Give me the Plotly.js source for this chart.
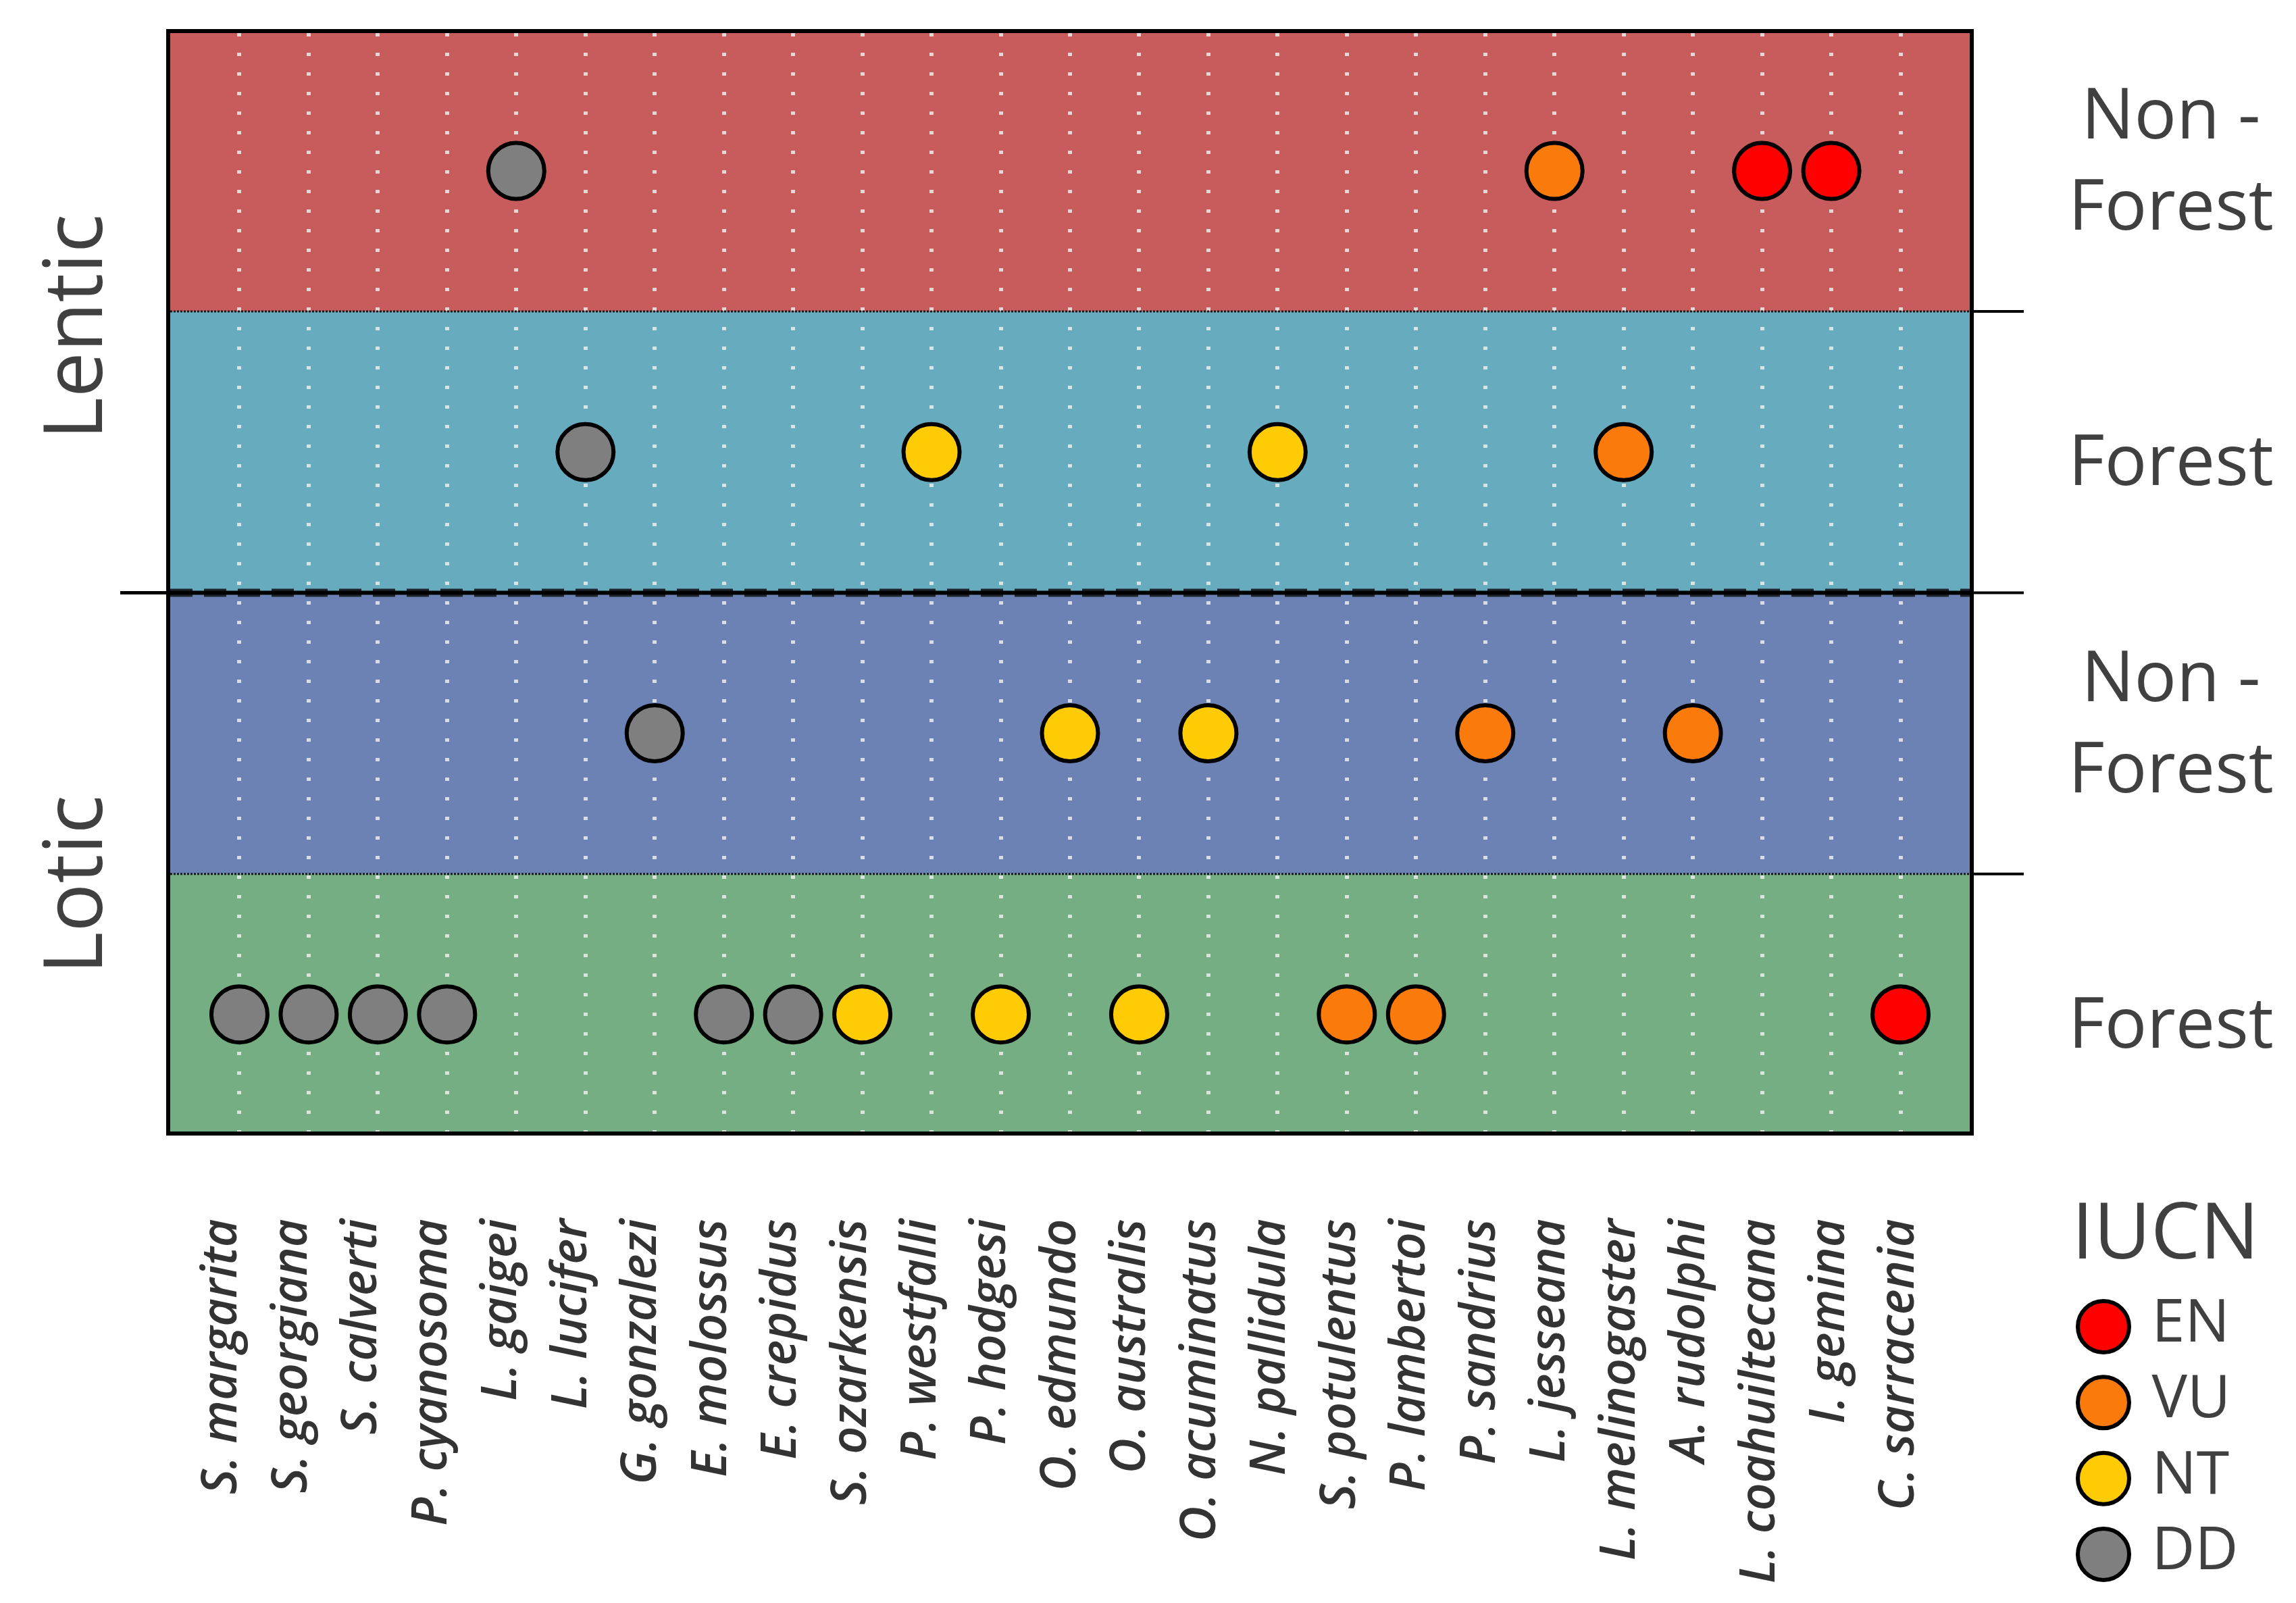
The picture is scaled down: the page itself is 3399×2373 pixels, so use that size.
<!DOCTYPE html>
<html>
<head>
<meta charset="utf-8">
<script src="https://cdn.plot.ly/plotly-3.0.1.min.js"></script>
<style>html,body{margin:0;padding:0;background:#fff;}#chart{width:3399px;height:2373px;}</style>
</head>
<body>
<div id="chart"></div>
<script>
// ---------- data ----------
const species = ['S. margarita','S. georgiana','S. calverti','P. cyanosoma','L. gaigei','L. lucifer',
  'G. gonzalezi','E. molossus','E. crepidus','S. ozarkensis','P. westfalli','P. hodgesi','O. edmundo',
  'O. australis','O. acuminatus','N. pallidula','S. potulentus','P. lambertoi','P. sandrius',
  'L. jesseana','L. melinogaster','A. rudolphi','L. coahuiltecana','I. gemina','C. sarracenia'];
const habitatLevels = ['Lotic Forest','Lotic Non-Forest','Lentic Forest','Lentic Non-Forest'];
const habitatLabels = ['Forest','Non -<br>Forest','Forest','Non -<br>Forest'];
const speciesHabitat = ['Lotic Forest','Lotic Forest','Lotic Forest','Lotic Forest','Lentic Non-Forest',
  'Lentic Forest','Lotic Non-Forest','Lotic Forest','Lotic Forest','Lotic Forest','Lentic Forest',
  'Lotic Forest','Lotic Non-Forest','Lotic Forest','Lotic Non-Forest','Lentic Forest','Lotic Forest',
  'Lotic Forest','Lotic Non-Forest','Lentic Non-Forest','Lentic Forest','Lotic Non-Forest',
  'Lentic Non-Forest','Lentic Non-Forest','Lotic Forest'];
const speciesStatus = ['DD','DD','DD','DD','DD','DD','DD','DD','DD','NT','NT','NT','NT','NT','NT','NT',
  'VU','VU','VU','VU','VU','VU','EN','EN','EN'];
const statusLevels = ['EN','VU','NT','DD'];
const statusColors = {EN:'#FF0000', VU:'#FA7A0C', NT:'#FFCB05', DD:'#7F7F7F'};
const bandColors = ['#74AE82','#6C82B4','#66ABBE','#C85B5B'];
const systemLabels = ['Lotic','Lentic'];

// ---------- geometry ----------
const W = 3399, H = 2373;
const xDom = [252/W, 2916/W];
const yDom = [(H-1675)/H, (H-49)/H];
const yRange = [0.584, 4.49];
const xRange = [-1, 25];
const labelRange = [-0.725, 25.024];
const textCol = '#404040';

const yOf = h => habitatLevels.indexOf(h) + 1;

const mainTrace = {
  type:'scatter', mode:'markers', xaxis:'x', yaxis:'y',
  x: species,
  y: speciesHabitat.map(yOf),
  marker:{size:83, color: speciesStatus.map(s=>statusColors[s]), line:{color:'#000', width:6}},
  hoverinfo:'x+y', showlegend:false, cliponaxis:false
};
// invisible companion trace carrying the species tick labels
const labelTrace = {
  type:'scatter', mode:'markers', xaxis:'x2', yaxis:'y',
  x: species.map((s,i)=>i), y: speciesHabitat.map(yOf),
  marker:{size:1, opacity:0}, hoverinfo:'skip', showlegend:false
};

const legendMarkers = {
  type:'scatter', mode:'markers', xaxis:'x3', yaxis:'y3',
  x: statusLevels.map(()=>0.2857),
  y: statusLevels.map((s,i)=>statusLevels.length-1-i),
  marker:{size:76, color: statusLevels.map(s=>statusColors[s]), line:{color:'#000', width:6}},
  showlegend:false, hoverinfo:'skip', cliponaxis:false
};
const legendText = {
  type:'scatter', mode:'text', xaxis:'x3', yaxis:'y3',
  x: statusLevels.map(()=>0.465),
  y: statusLevels.map((s,i)=>statusLevels.length-1-i),
  text: statusLevels, textposition:'middle right',
  textfont:{family:'Open Sans', size:88, color:textCol},
  showlegend:false, hoverinfo:'skip', cliponaxis:false
};

const shapes = [];
habitatLevels.forEach((h,i)=>{
  const y0 = Math.max(i+0.5, yRange[0]);
  const y1 = Math.min(i+1.5, yRange[1]);
  shapes.push({type:'rect', layer:'below', xref:'x domain', yref:'y', x0:0, x1:1, y0:y0, y1:y1,
    fillcolor:bandColors[i], line:{width:0}});
});
[1.5, 3.5].forEach(v=>{
  shapes.push({type:'line', layer:'above', xref:'x domain', yref:'y', x0:0, x1:1, y0:v, y1:v,
    line:{color:'#1a1a1a', width:3, dash:'3px,2px'}});
});
// thick dashed separator between Lentic and Lotic
shapes.push({type:'line', layer:'above', xref:'x domain', yref:'y', x0:0, x1:1, y0:2.5, y1:2.5,
  line:{color:'#1e252e', width:12, dash:'33px,17px'}});
shapes.push({type:'line', layer:'above', xref:'x domain', yref:'y', x0:0, x1:1, y0:2.5, y1:2.5,
  line:{color:'#000', width:6}});
shapes.push({type:'line', xref:'paper', yref:'y', x0:178/W, x1:xDom[0], y0:2.5, y1:2.5,
  line:{color:'#000', width:5}});
[1.5, 2.5, 3.5].forEach(v=>{
  shapes.push({type:'line', xref:'paper', yref:'y', x0:xDom[1], x1:2996/W, y0:v, y1:v,
    line:{color:'#000', width:4}});
});

const annotations = [];
habitatLabels.forEach((t,i)=>{
  annotations.push({xref:'paper', yref:'y', x:3214/W, y:(i+1)+ (t.indexOf('<br>')>=0 ? 0.05 : -0.02),
    text:t, showarrow:false, xanchor:'center', yanchor:'middle', align:'center',
    font:{family:'Open Sans', size:104, color:textCol}});
});
const systemY = [1.46, 3.445];
systemLabels.forEach((t,i)=>{
  annotations.push({xref:'paper', yref:'y', x:104/W, y:systemY[i], text:t, textangle:-90,
    showarrow:false, xanchor:'center', yanchor:'middle',
    font:{family:'Open Sans', size:120, color:textCol}});
});
annotations.push({xref:'paper', yref:'y3', x:3205/W, y:4.30, text:'IUCN', showarrow:false,
  xanchor:'center', yanchor:'middle', borderpad:0,
  font:{family:'Open Sans', size:116, color:textCol}});

const layout = {
  width:W, height:H,
  margin:{l:0, r:0, t:0, b:0},
  paper_bgcolor:'#fff', plot_bgcolor:'rgba(0,0,0,0)',
  showlegend:false,
  xaxis:{domain:xDom, type:'category', categoryorder:'array', categoryarray:species,
    range:xRange, showgrid:true, gridcolor:'rgba(236,236,236,0.85)', gridwidth:6, griddash:'5px,24px',
    showline:true, mirror:true, linecolor:'#000', linewidth:6, ticks:'', zeroline:false,
    showticklabels:false, fixedrange:true},
  xaxis2:{domain:xDom, overlaying:'x', anchor:'y', side:'bottom', range:labelRange,
    tickmode:'array', tickvals:species.map((s,i)=>i), ticktext:species,
    showgrid:false, zeroline:false, showline:false, ticks:'',
    tickangle:-90, ticklabelstandoff:114,
    tickfont:{family:'Open Sans', size:72, style:'italic', weight:600, color:'#333'}, fixedrange:true},
  yaxis:{domain:yDom, range:yRange, showgrid:false, zeroline:false, showticklabels:false, ticks:'',
    showline:true, mirror:true, linecolor:'#000', linewidth:6, fixedrange:true},
  xaxis3:{domain:[3000/W, 1], range:[0,1], anchor:'y3', visible:false, fixedrange:true},
  yaxis3:{domain:[0, 620/H], range:[-0.641, 4.879], anchor:'x3', visible:false, fixedrange:true},
  shapes:shapes, annotations:annotations
};

Plotly.newPlot('chart', [mainTrace, labelTrace, legendMarkers, legendText], layout, {staticPlot:true});
</script>
</body>
</html>
